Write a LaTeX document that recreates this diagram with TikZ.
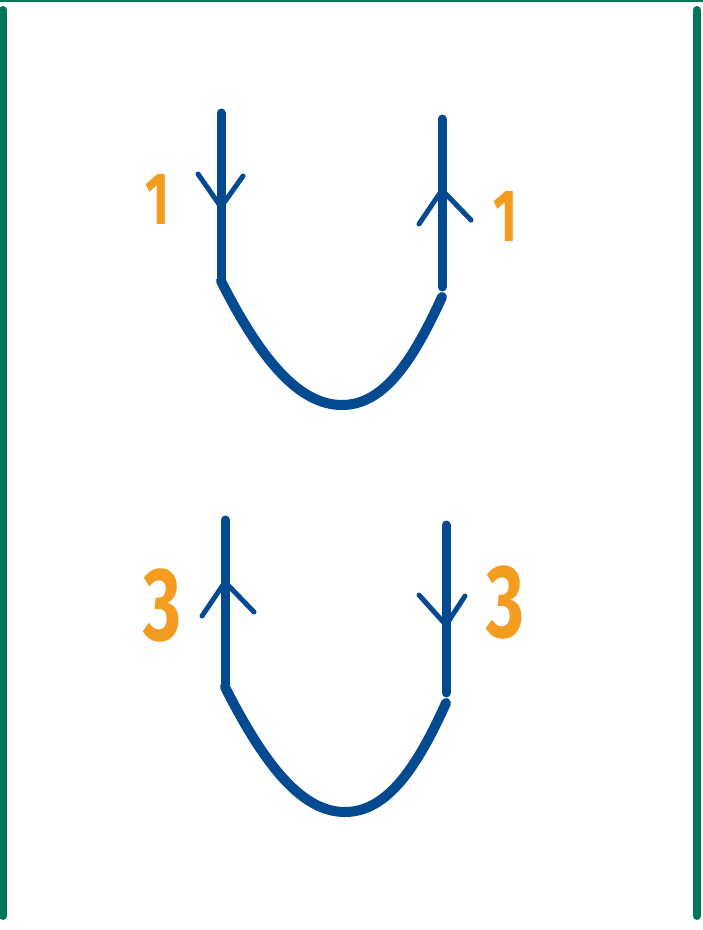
\documentclass[tikz,border=0pt]{standalone}
\usepackage{fontspec}
\setmainfont{Fira Sans}
\newfontfamily\tagfont[FakeStretch=0.7]{Fira Sans}
\usepackage{tikz}
\usetikzlibrary{positioning}
\usepackage{xcolor}
\definecolor{frame}{RGB}{0,120,88}
\definecolor{wire}{RGB}{3,74,145}
\definecolor{tag}{RGB}{243,156,31}

\begin{document}
\begin{tikzpicture}[x=1pt,y=-1pt,line cap=round,line join=round]
  \tikzstyle{border}=[draw=frame,line width=8pt]
  \tikzstyle{leg}=[draw=wire,line width=9pt]
  \tikzstyle{bow}=[draw=wire,line width=10pt]
  \tikzstyle{head}=[draw=wire,line width=5pt]
  \tikzstyle{one}=[text=tag,font=\tagfont\bfseries\fontsize{74}{74}\selectfont,inner sep=0pt]
  \tikzstyle{three}=[text=tag,font=\tagfont\bfseries\fontsize{104}{104}\selectfont,inner sep=0pt]

  \useasboundingbox (0,0) rectangle (703,930);

  % frame
  \draw[draw=frame,line width=2pt,line cap=butt] (0,1) -- (703,1);
  \draw[border] (3,10) -- (3,916);
  \draw[border] (697,10) -- (697,916);

  % upper loop
  \coordinate (a1) at (221,113);
  \coordinate (a2) at (221,281);
  \coordinate (b1) at (442,119);
  \coordinate (b2) at (442,287);
  \coordinate (c)  at (342,405);
  \draw[leg] (a1) -- (a2);
  \draw[leg] (b1) -- (b2);
  \draw[bow] (a2) .. controls (262,362) and (300,405) .. (c)
                  .. controls (385,405) and (414,358) .. (442,297);
  \draw[head] (198,174) -- (221,207) -- (243,176);
  \draw[head] (419,224) -- (442,190) -- (471,220);
  \node[one] (l1) at (158,199) {1};
  \node[one] (r1) at (506,216) {1};

  % lower loop
  \coordinate (d1) at (225,520);
  \coordinate (d2) at (225,687);
  \coordinate (e1) at (446,525);
  \coordinate (e2) at (446,693);
  \coordinate (f)  at (345,812);
  \draw[leg] (d1) -- (d2);
  \draw[leg] (e1) -- (e2);
  \draw[bow] (d2) .. controls (266,768) and (303,812) .. (f)
                  .. controls (388,812) and (418,765) .. (446,703);
  \draw[head] (202,616) -- (225,582) -- (254,612);
  \draw[head] (419,595) -- (446,625) -- (465,596);
  \node[three] (l3) at (162,605) {3};
  \node[three] (r3) at (505,602) {3};
\end{tikzpicture}
\end{document}
